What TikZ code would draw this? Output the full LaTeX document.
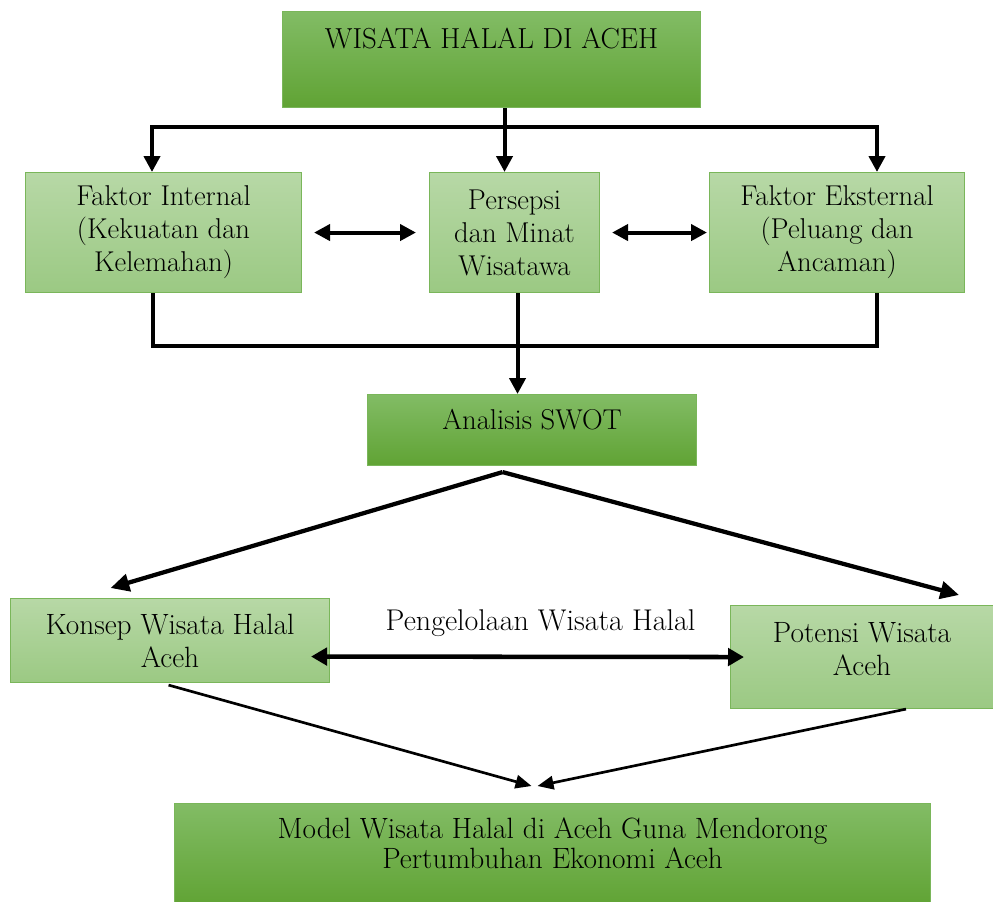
\documentclass[tikz,border=0pt]{standalone}
\usetikzlibrary{arrows.meta}
\definecolor{dtop}{HTML}{82BC65}
\definecolor{dbot}{HTML}{60A334}
\definecolor{ltop}{HTML}{B7D8A6}
\definecolor{lbot}{HTML}{9BC983}
\definecolor{edge}{HTML}{7AB65A}
\tikzset{
  darkbox/.style={draw=edge, line width=0.8pt, top color=dtop, bottom color=dbot, inner sep=0pt, align=center, anchor=north west},
  lightbox/.style={draw=edge, line width=0.8pt, top color=ltop, bottom color=lbot, inner sep=0pt, align=center, anchor=north west},
  upfont/.style={font=\fontsize{21.5}{24.75}\selectfont},
  lowfont/.style={font=\fontsize{22}{24.75}\selectfont},
  conn/.style={line width=3pt, line join=miter},
  arr/.style={line width=3pt, line join=miter, -{Triangle[length=12pt,width=12pt]}},
  darr/.style={line width=3pt, line join=miter, {Triangle[length=12pt,width=12pt]}-{Triangle[length=12pt,width=12pt]}},
  diagarr/.style={line width=3.2pt, -{Triangle[length=14pt,width=13pt]}},
  thinarr/.style={line width=2pt, -{Triangle[length=12pt,width=10pt]}},
}
\begin{document}
\begin{tikzpicture}[x=0.75pt,y=-0.75pt]
\useasboundingbox (0,0) rectangle (993,901);
\node[darkbox, minimum width=313.5pt, minimum height=72pt, font=\fontsize{21.7}{24}\selectfont, text height=14.8pt, text depth=32pt] (top) at (282,11) {WISATA HALAL DI ACEH};
\node[lightbox, upfont, minimum width=207pt, minimum height=90pt] (fi) at (25,172) {Faktor Internal\\(Kekuatan dan\\Kelemahan)};
\node[lightbox, upfont, minimum width=127.5pt, minimum height=90pt] (pers) at (429,172) {Persepsi\\dan Minat\\Wisatawa};
\node[lightbox, upfont, minimum width=191.25pt, minimum height=90pt] (fe) at (709,172) {Faktor Eksternal\\(Peluang dan\\Ancaman)};
\node[darkbox, minimum width=246.75pt, minimum height=53.25pt, font=\fontsize{21.5}{24}\selectfont, text height=14.7pt, text depth=15pt] (swot) at (367,394) {Analisis SWOT};
\node[lightbox, lowfont, minimum width=239.25pt, minimum height=63pt] (konsep) at (10,598) {Konsep Wisata Halal\\Aceh};
\node[lightbox, lowfont, minimum width=197.25pt, minimum height=77.25pt, text depth=12pt] (pot) at (730,605) {Potensi Wisata\\Aceh};
\node[darkbox, font=\fontsize{22}{23}\selectfont, minimum width=567pt, minimum height=76.5pt, text depth=17pt] (model) at (174,803) {Model Wisata Halal di Aceh Guna Mendorong\\Pertumbuhan Ekonomi Aceh};

% top connectors
\coordinate (bl) at (152,127);
\coordinate (br) at (877,127);
\draw[darr] (bl |- fi.north) -- (bl) -- (br) -- (br |- fe.north);
\draw[arr] ([xshift=9.75pt]top.south) -- ([xshift=-7.5pt]pers.north);
\draw[darr] ([xshift=9pt]fi.east) -- ([xshift=-9.75pt]pers.west);
\draw[darr] ([xshift=9pt]pers.east) -- ([xshift=-1.5pt]fe.west);

% bottom connectors
\coordinate (jl) at (153,346);
\coordinate (jr) at (877,346);
\draw[conn] (jl |- fi.south) -- (jl) -- (jr) -- (jr |- fe.south);
\draw[arr] ([xshift=2.25pt]pers.south) -- ([xshift=-10.875pt]swot.north);

% from SWOT
\draw[diagarr] ([xshift=-22.1pt,yshift=-4.5pt]swot.south) -- ([xshift=-44.6pt,yshift=7.5pt]konsep.north);
\draw[diagarr] ([xshift=-22.1pt,yshift=-4.5pt]swot.south) -- ([xshift=72.75pt,yshift=7.5pt]pot.north);

% management arrow
\draw[line width=3.4pt, {Triangle[length=12pt,width=13pt]}-{Triangle[length=12pt,width=13pt]}] ([xshift=-14.25pt,yshift=-12pt]konsep.east) -- node[pos=0.53, anchor=base, yshift=19.5pt, font=\fontsize{22.5}{24}\selectfont] (lbl) {Pengelolaan Wisata Halal} ([xshift=10.5pt]pot.west);

% to model
\draw[thinarr] ([xshift=-1.1pt,yshift=-1.5pt]konsep.south) -- ([xshift=-15.75pt,yshift=12.75pt]model.north);
\draw[thinarr] ([xshift=33pt]pot.south) -- ([xshift=-11.25pt,yshift=12.75pt]model.north);
\end{tikzpicture}
\end{document}
